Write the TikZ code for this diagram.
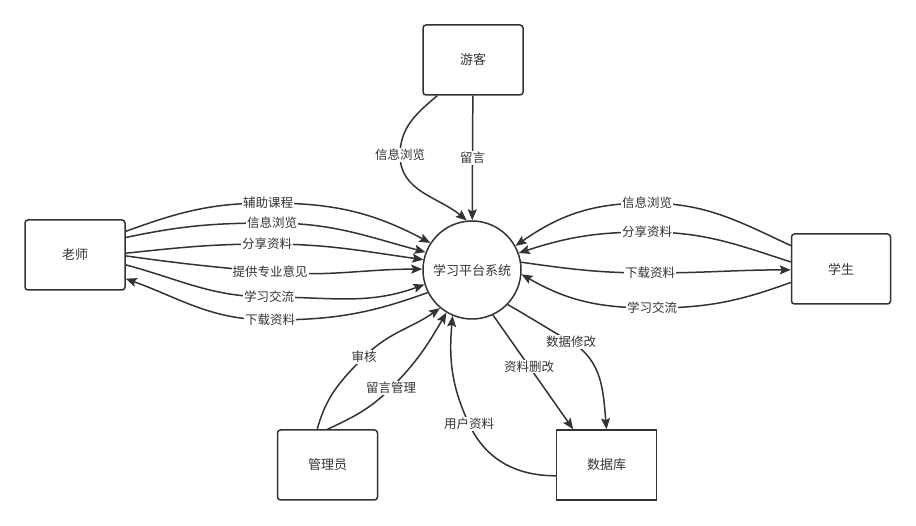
\documentclass[tikz,border=0pt]{standalone}
\usepackage{fontspec}
\usepackage{tikz}
\usetikzlibrary{arrows.meta}
\newfontfamily\cjk{Noto Sans CJK SC}
\definecolor{ink}{HTML}{333333}
\tikzset{
  box/.style={draw=ink, line width=1.5pt, rounded corners=3pt, minimum width=100pt, minimum height=70pt, text=ink, font=\cjk\fontsize{13}{15}\selectfont},
  store/.style={box, sharp corners},
  proc/.style={circle, draw=ink, line width=1.5pt, minimum size=98pt, inner sep=0pt, text=ink, font=\cjk\fontsize{13}{15}\selectfont},
  flow/.style={draw=ink, line width=1.5pt, -{Stealth[length=11pt,width=9pt,inset=2pt]}},
  lbl/.style={fill=white, inner sep=1pt, text=ink, font=\cjk\fontsize{12.5}{14}\selectfont}
}
\begin{document}
\begin{tikzpicture}[x=1pt,y=1pt]
\useasboundingbox (0,0) rectangle (916,525);
% entities
\node[box] (teacher) at (75,270) {老师};
\node[box] (visitor) at (473,465) {游客};
\node[box, minimum width=99pt] (student) at (841,256) {学生};
\node[box] (admin) at (327.5,60) {管理员};
\node[store] (db) at (606.5,60) {数据库};
\node[proc] (sys) at (472,255) {学习平台系统};

% teacher
\draw[flow] (teacher.25) to[out=20,in=180] (268,322) node[lbl] (tf1) {辅助课程} to[out=0,in=152] (sys.147);
\draw[flow] (teacher.19) to[out=12,in=180] (272,302) node[lbl] (tf2) {信息浏览} to[out=0,in=165] (sys.159);
\draw[flow] (teacher.2) to[out=6,in=180] (267,281) node[lbl] (tf3) {分享资料} to[out=0,in=172] (sys.168);
\draw[flow] (teacher.-1) to[out=-8,in=175] (270,253) node[lbl] (tf4) {提供专业意见} to[out=-5,in=180] (sys.179);
\draw[flow] (teacher.-11) to[out=-15,in=180] (269,228) node[lbl] (tf5) {学习交流} to[out=0,in=-160] (sys.197);
\draw[flow] (sys.207) to[out=200,in=0] (270,205) node[lbl] (tf6) {下载资料} to[out=180,in=-20] (teacher.-25);

% visitor
\draw[flow] (visitor.225) to[out=220,in=90] (400,370) node[lbl] (vf1) {信息浏览} to[out=-90,in=140] (sys.96);
\draw[flow] (visitor) -- node[lbl] (vf2) {留言} (sys);

% student
\draw[flow] (student.155) to[out=155,in=0] (647,322) node[lbl] (sf1) {信息浏览} to[out=180,in=35] (sys.29);
\draw[flow] (student.172) to[out=162,in=0] (647,293) node[lbl] (sf2) {分享资料} to[out=180,in=18] (sys.20);
\draw[flow] (sys.9) to[out=-8,in=180] (650,252) node[lbl] (sf3) {下载资料} to[out=0,in=180] (student.181);
\draw[flow] (student.195) to[out=200,in=0] (652,217) node[lbl] (sf4) {学习交流} to[out=180,in=-30] (sys.-5);

% admin
\draw[flow] (admin.106) to[out=75,in=225] (364,168) node[lbl] (af1) {审核} to[out=45,in=215] (sys.230);
\draw[flow] (admin.north) to[out=25,in=225] (391,137) node[lbl] (af2) {留言管理} to[out=45,in=240] (sys.239);

% database
\draw[flow] (db.192) to[out=180,in=-65] (469,101) node[lbl] (df1) {用户资料} to[out=115,in=-95] (sys.247);
\draw[flow] (sys.295) -- node[lbl, pos=.45] (df2) {资料删改} (db.133);
\draw[flow] (sys.316) to[out=-30,in=150] (571,183) node[lbl] (df3) {数据修改} to[out=-30,in=95] (db.north);
\end{tikzpicture}
\end{document}
